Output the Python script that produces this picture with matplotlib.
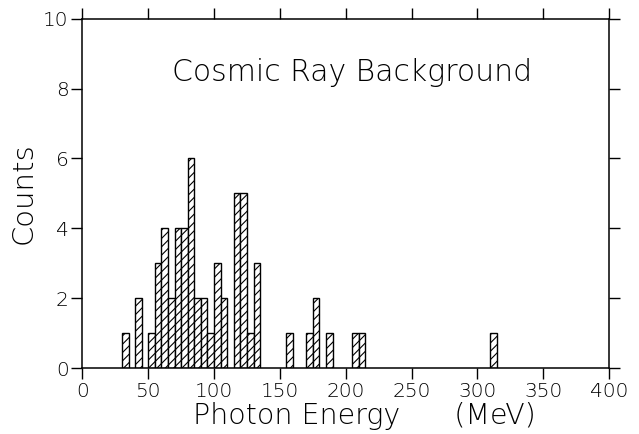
import numpy as np
import matplotlib
matplotlib.use("Agg")
import matplotlib.pyplot as plt

# bin left edges (MeV) and counts, bin width 5 MeV
bin_left = [30, 40, 50, 55, 60, 65, 70, 75, 80, 85, 90, 95, 100, 105,
            115, 120, 125, 130, 155, 170, 175, 185, 205, 210, 310]
counts = [1, 2, 1, 3, 4, 2, 4, 4, 6, 2, 2, 1, 3, 2,
          5, 5, 1, 3, 1, 1, 2, 1, 1, 1, 1]
bin_width = 5

x_ticks = [0, 50, 100, 150, 200, 250, 300, 350, 400]
y_ticks = [0, 2, 4, 6, 8, 10]

plt.rcParams['font.family'] = ['DejaVu Sans']
plt.rcParams['hatch.linewidth'] = 0.8

fig = plt.figure(figsize=(6.39, 4.34), dpi=100)
ax = fig.add_axes([0.129, 0.152, 0.824, 0.805])

ax.bar(bin_left, counts, width=bin_width, align='edge', color='white',
       edgecolor='black', linewidth=1.0, hatch='////')

ax.set_xlim(0, 400)
ax.set_ylim(0, 10)
ax.set_xticks(x_ticks)
ax.set_yticks(y_ticks)
ax.tick_params(direction='out', length=8, width=1.0, labelsize=14.5,
               top=True, right=True, pad=2)
for lab in ax.get_xticklabels() + ax.get_yticklabels():
    lab.set_fontweight('light')
for s in ax.spines.values():
    s.set_linewidth(1.1)

ax.text(205, 8.45, 'Cosmic Ray Background', ha='center', va='center',
        fontsize=21.5, fontweight='light')
ax.set_ylabel('Counts', fontsize=21, fontweight='light', labelpad=4)
ax.set_xlabel('Photon Energy      (MeV)', fontsize=20.5, fontweight='light')
ax.xaxis.set_label_coords(0.536, -0.097)

fig.savefig('out.png', dpi=100)
